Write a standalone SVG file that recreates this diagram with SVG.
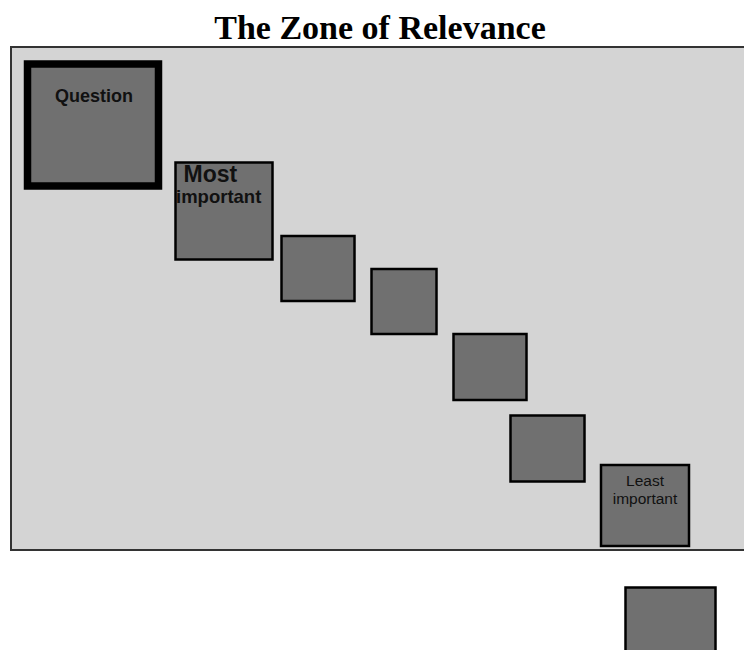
<svg xmlns="http://www.w3.org/2000/svg" width="744" height="650" viewBox="0 0 744 650">
  <style>
    .zone { fill: #d4d4d4; stroke: #333333; stroke-width: 2; }
    .box { fill: #707070; stroke: #000000; stroke-width: 2.5; }
    .qbox { fill: #707070; stroke: #000000; stroke-width: 7.5; }
    .title { font-family: "Liberation Serif", "Times New Roman", serif; font-weight: bold; font-size: 34px; fill: #000; text-anchor: middle; }
    .lbl { font-family: "Liberation Sans", Arial, sans-serif; fill: #111; }
    .b { font-weight: bold; }
  </style>

  <rect width="744" height="650" fill="#ffffff"/>

  <text class="title" x="380" y="39">The Zone of Relevance</text>

  <!-- relevance zone -->
  <rect id="zone" class="zone" x="11" y="47" width="740" height="503"/>

  <g id="question">
    <rect class="qbox" x="27.5" y="64" width="131" height="122"/>
    <text class="lbl b" x="94" y="102" font-size="18" text-anchor="middle">Question</text>
  </g>

  <g id="most-important">
    <rect class="box" x="175.5" y="162.5" width="97" height="97"/>
    <text class="lbl b" x="183.5" y="181.5" font-size="23">Most</text>
    <text class="lbl b" x="176" y="203" font-size="18.5">important</text>
  </g>

  <g id="item-2">
    <rect class="box" x="281.5" y="236" width="73" height="65"/>
  </g>

  <g id="item-3">
    <rect class="box" x="371.5" y="269" width="65" height="65"/>
  </g>

  <g id="item-4">
    <rect class="box" x="453.5" y="334" width="73" height="66"/>
  </g>

  <g id="item-5">
    <rect class="box" x="510.5" y="415.5" width="74" height="66"/>
  </g>

  <g id="least-important">
    <rect class="box" x="601" y="465" width="88" height="81"/>
    <text class="lbl" x="645" y="486" font-size="15.5" text-anchor="middle">Least</text>
    <text class="lbl" x="645" y="504" font-size="15.5" text-anchor="middle">important</text>
  </g>

  <g id="outside">
    <rect class="box" x="625.5" y="587.5" width="90" height="80"/>
  </g>

  <g id="connectors"></g>
</svg>
